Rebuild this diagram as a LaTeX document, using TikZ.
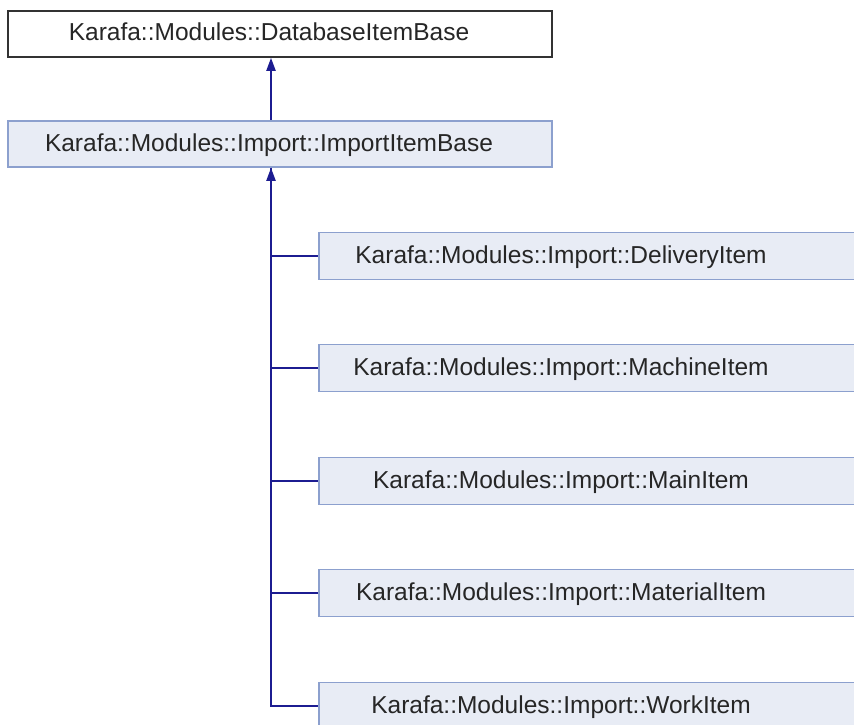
\documentclass[tikz,border=0pt]{standalone}
\usepackage{fontspec}
\setmainfont{Liberation Sans}
\usetikzlibrary{arrows.meta}
\definecolor{boxfill}{RGB}{232,236,245}
\definecolor{boxline}{RGB}{140,160,206}
\definecolor{topline}{RGB}{50,50,50}
\definecolor{edgecol}{RGB}{28,28,145}
\tikzset{
  cls/.style={draw=boxline, fill=boxfill, line width=1.6pt, rectangle,
    minimum height=46pt, inner sep=0pt, text height=17pt, text depth=3pt,
    font=\fontsize{24.5pt}{28pt}\selectfont, text=black!85},
  topcls/.style={cls, draw=topline, fill=white},
  child/.style={cls, minimum height=47pt, minimum width=545pt},
  edge/.style={draw=edgecol, line width=2pt},
  inh/.style={edge, {Triangle[length=13pt,width=9pt]}-}
}
\begin{document}
\begin{tikzpicture}[x=1pt,y=-1pt]
\useasboundingbox (0,0) rectangle (854,725);
\node[topcls, minimum width=544pt] (db) at (280,34) {Karafa::Modules::DatabaseItemBase\hspace*{22pt}\null};
\node[cls, minimum width=544pt] (iib) at (280,144) {Karafa::Modules::Import::ImportItemBase\hspace*{22pt}\null};
\node[child] (deliv) at (591.5,256) {Karafa::Modules::Import::DeliveryItem\hspace*{61pt}\null};
\node[child] (mach) at (591.5,368) {Karafa::Modules::Import::MachineItem\hspace*{61pt}\null};
\node[child] (main) at (591.5,481) {Karafa::Modules::Import::MainItem\hspace*{61pt}\null};
\node[child] (mat) at (591.5,593) {Karafa::Modules::Import::MaterialItem\hspace*{61pt}\null};
\node[child] (work) at (591.5,706) {Karafa::Modules::Import::WorkItem\hspace*{61pt}\null};
\draw[inh] ([xshift=-9pt]db.south) -- ([xshift=-9pt]iib.north);
\draw[inh] ([xshift=-9pt]iib.south) |- (work.west);
\draw[edge] ([xshift=-9pt]iib.south) |- (deliv.west);
\draw[edge] ([xshift=-9pt]iib.south) |- (mach.west);
\draw[edge] ([xshift=-9pt]iib.south) |- (main.west);
\draw[edge] ([xshift=-9pt]iib.south) |- (mat.west);
\end{tikzpicture}
\end{document}
